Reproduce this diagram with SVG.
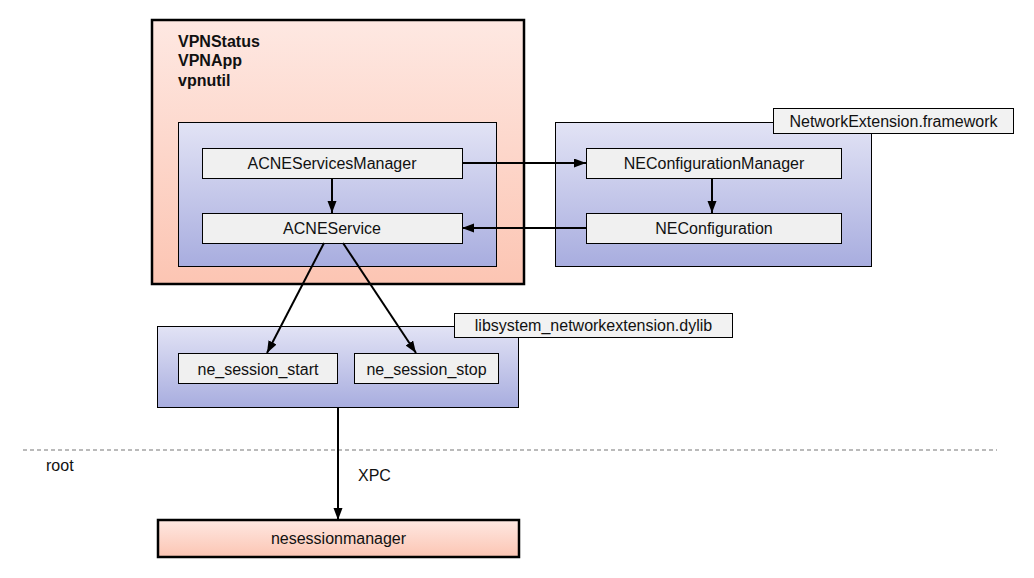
<svg xmlns="http://www.w3.org/2000/svg" width="1034" height="578" viewBox="0 0 1034 578">
<defs>
<linearGradient id="pink" x1="0" y1="0" x2="0" y2="1">
<stop offset="0" stop-color="#fee8e2"/>
<stop offset="1" stop-color="#fcc5b3"/>
</linearGradient>
<linearGradient id="blue" x1="0" y1="0" x2="0" y2="1">
<stop offset="0" stop-color="#e2e3f5"/>
<stop offset="1" stop-color="#a8addf"/>
</linearGradient>
<marker id="arr" markerUnits="userSpaceOnUse" markerWidth="13" markerHeight="10" refX="12" refY="4.5" orient="auto">
<path d="M0,0 L12,4.5 L0,9 z" fill="#000"/>
</marker>
<style>
text{font-family:"Liberation Sans",Arial,sans-serif;font-size:16px;fill:#111}
.b{font-weight:bold}
.m{text-anchor:middle}
.proc{fill:url(#pink);stroke:#000;stroke-width:2.5}
.grp{fill:url(#blue);stroke:#000;stroke-width:1}
.node{fill:#f0f0f0;stroke:#000;stroke-width:1}
.lbl{fill:#f2f2f2;stroke:#000;stroke-width:1}
.c{stroke:#000;stroke-width:2;fill:none;marker-end:url(#arr)}
</style>
</defs>
<rect width="1034" height="578" fill="#fff"/>
<g id="vpnprocess">
<rect class="proc" x="152" y="20" width="372" height="264"/>
<text class="b" x="178" y="47">VPNStatus</text>
<text class="b" x="178" y="66">VPNApp</text>
<text class="b" x="178" y="86">vpnutil</text>
</g>
<g id="acne-group">
<rect class="grp" x="178.5" y="122.5" width="318" height="144"/>
</g>
<g id="ACNEServicesManager">
<rect class="node" x="202.5" y="148.5" width="260" height="30"/>
<text class="m" x="332" y="169">ACNEServicesManager</text>
</g>
<g id="ACNEService">
<rect class="node" x="202.5" y="213.5" width="260" height="30"/>
<text class="m" x="332" y="234">ACNEService</text>
</g>
<g id="NetworkExtension">
<rect class="grp" x="555.5" y="122.5" width="316" height="144"/>
<rect class="lbl" x="773.5" y="108.5" width="240" height="25"/>
<text class="m" x="893.5" y="127">NetworkExtension.framework</text>
</g>
<g id="NEConfigurationManager">
<rect class="node" x="586.5" y="148.5" width="255" height="30"/>
<text class="m" x="714" y="169">NEConfigurationManager</text>
</g>
<g id="NEConfiguration">
<rect class="node" x="586.5" y="213.5" width="255" height="30"/>
<text class="m" x="714" y="234">NEConfiguration</text>
</g>
<g id="libsystem">
<rect class="grp" x="157.5" y="326.5" width="361" height="81"/>
<rect class="lbl" x="454.5" y="313.5" width="278" height="24"/>
<text class="m" x="593.5" y="331">libsystem_networkextension.dylib</text>
</g>
<g id="ne_session_start">
<rect class="node" x="178.5" y="353.5" width="159" height="30"/>
<text class="m" x="258" y="375">ne_session_start</text>
</g>
<g id="ne_session_stop">
<rect class="node" x="354.5" y="353.5" width="144" height="30"/>
<text class="m" x="426.5" y="375">ne_session_stop</text>
</g>
<g id="boundary">
<line x1="23" y1="450" x2="997" y2="450" stroke="#777" stroke-width="1.2" stroke-dasharray="4,3"/>
<text x="46" y="471">root</text>
</g>
<g id="nesessionmanager">
<rect class="proc" x="158" y="520" width="361" height="37"/>
<text class="m" x="338.5" y="544">nesessionmanager</text>
</g>
<g id="connectors">
<line class="c" x1="332" y1="178" x2="332" y2="213"/>
<line class="c" x1="712" y1="178" x2="712" y2="213"/>
<line class="c" x1="462" y1="163" x2="586" y2="163"/>
<line class="c" x1="586" y1="228" x2="462" y2="228"/>
<line class="c" x1="324" y1="243" x2="267" y2="353"/>
<line class="c" x1="343" y1="243" x2="416" y2="353"/>
<line class="c" x1="338" y1="407" x2="338" y2="520"/>
<text x="358" y="481">XPC</text>
</g>
</svg>
